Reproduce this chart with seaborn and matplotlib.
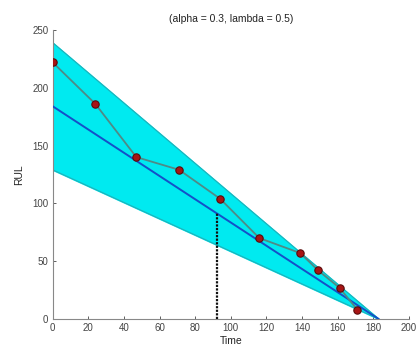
import numpy as np
import pandas as pd
import matplotlib
matplotlib.use("Agg")
import matplotlib.pyplot as plt
import seaborn as sns

# Observed RUL at inspection times
obs_time = [0, 24, 47, 71, 94, 116, 139, 149, 161, 171]
obs_rul = [222, 186, 140, 129, 104, 70, 57, 42, 27, 8]

# Predicted RUL line and confidence band (end points)
pred_time = [0, 183]
pred_rul = [184, 0]
band_upper = [239, 0]
band_lower = [129, 0]

# Prediction time marker
marker_time = 92

title_text = "(alpha = 0.3, lambda = 0.5)"
x_ticks = [0, 20, 40, 60, 80, 100, 120, 140, 160, 180, 200]
y_ticks = [0, 50, 100, 150, 200, 250]

sns.set_theme(style="ticks")
plt.rcParams['font.family'] = ['Liberation Sans', 'DejaVu Sans']

fig = plt.figure(figsize=(4.17, 3.51), dpi=100)
ax = fig.add_axes([0.126, 0.091, 0.855, 0.824])

# confidence band
ax.fill_between(pred_time, band_lower, band_upper, color="#00eaf0", zorder=1)
ax.plot(pred_time, band_upper, color="#20b0b8", lw=0.8, zorder=2)
ax.plot(pred_time, band_lower, color="#20b0b8", lw=0.8, zorder=2)

# predicted RUL
pred_df = pd.DataFrame({"Time": pred_time, "RUL": pred_rul})
sns.lineplot(data=pred_df, x="Time", y="RUL", ax=ax, color="#1450c8", lw=1.4, zorder=3)

# vertical marker at prediction time
marker_rul = np.interp(marker_time, pred_time, pred_rul)
ax.plot([marker_time, marker_time], [0, marker_rul], color="#101010", lw=1.6,
        linestyle=(0, (1, 0.6)), zorder=4)

# observed RUL
obs_df = pd.DataFrame({"Time": obs_time, "RUL": obs_rul})
sns.lineplot(data=obs_df, x="Time", y="RUL", ax=ax, color="#4f8a86", lw=1.3, zorder=5)
sns.scatterplot(data=obs_df, x="Time", y="RUL", ax=ax, color="#a81414",
                edgecolor="#5a0a0a", linewidth=0.8, s=28, zorder=6)

ax.set_xlim(0, 200)
ax.set_ylim(0, 250)
ax.set_xticks(x_ticks)
ax.set_yticks(y_ticks)
ax.tick_params(labelsize=7, colors="#444444", length=2.5, width=0.6, direction="in", pad=3)
for s in ["top", "right"]:
    ax.spines[s].set_visible(False)
for s in ["left", "bottom"]:
    ax.spines[s].set_color("#888888")
    ax.spines[s].set_linewidth(0.8)

ax.set_xlabel("Time", fontsize=7.5, color="#222222", labelpad=2)
ax.set_ylabel("RUL", fontsize=7.5, color="#222222", labelpad=6)
ax.set_title(title_text, fontsize=7.5, color="#222222", pad=6)

fig.savefig("out.png", dpi=100)
